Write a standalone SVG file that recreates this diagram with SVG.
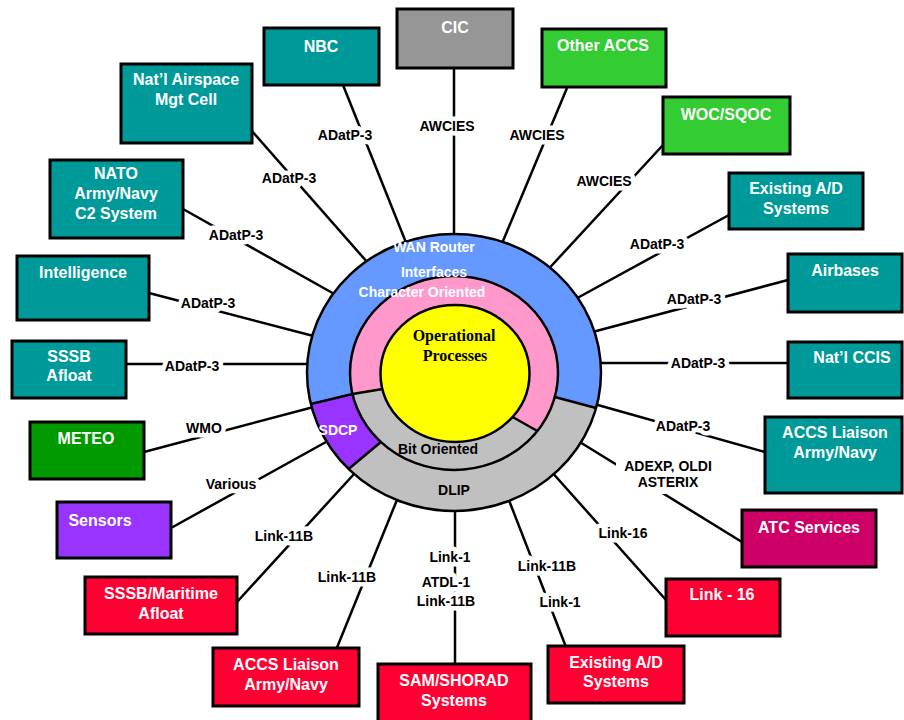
<svg xmlns="http://www.w3.org/2000/svg" width="904" height="720" viewBox="0 0 904 720">
  <style>
    .box { stroke: #000; stroke-width: 3; }
    .teal { fill: #009999; }
    .green { fill: #33CC33; }
    .grey { fill: #969696; }
    .dkgreen { fill: #009900; }
    .violet { fill: #9933FF; }
    .magenta { fill: #CC0066; }
    .red { fill: #FF0033; }
    .bt { font-family: "Liberation Sans", Arial, sans-serif; font-weight: bold; font-size: 16px; fill: #fff; text-anchor: middle; }
    .link { stroke: #000; stroke-width: 2.5; fill: none; }
    .lbl { font-family: "Liberation Sans", Arial, sans-serif; font-weight: bold; font-size: 14px; fill: #000; text-anchor: middle;
           stroke: #fff; stroke-width: 9px; stroke-linejoin: round; paint-order: stroke; }
    .ring { stroke: #000; stroke-width: 2.5; }
    .ct { font-family: "Liberation Sans", Arial, sans-serif; font-weight: bold; font-size: 14px; text-anchor: middle; }
    .serif { font-family: "Liberation Serif", "Times New Roman", serif; font-weight: bold; font-size: 16px; fill: #000; text-anchor: middle; }
  </style>

  <rect width="904" height="720" fill="#fff"/>

  <!-- connectors: drawn first so the hub covers their inner ends -->
  <g id="connectors">
    <line class="link" x1="454" y1="68" x2="454" y2="250"/>
    <line class="link" x1="343" y1="85" x2="413" y2="260"/>
    <line class="link" x1="252" y1="131" x2="375" y2="271"/>
    <line class="link" x1="183" y1="209" x2="345" y2="300"/>
    <line class="link" x1="149" y1="293" x2="325" y2="339"/>
    <line class="link" x1="126" y1="364" x2="320" y2="364"/>
    <line class="link" x1="144" y1="452" x2="325" y2="404"/>
    <line class="link" x1="171" y1="528" x2="335" y2="437"/>
    <line class="link" x1="237" y1="602" x2="365" y2="462"/>
    <line class="link" x1="336" y1="650" x2="401" y2="490"/>
    <line class="link" x1="455" y1="664" x2="455" y2="490"/>
    <line class="link" x1="566" y1="647" x2="505" y2="490"/>
    <line class="link" x1="666" y1="600" x2="550" y2="470"/>
    <line class="link" x1="742" y1="542" x2="570" y2="436"/>
    <line class="link" x1="765" y1="452" x2="580" y2="400"/>
    <line class="link" x1="788" y1="363" x2="590" y2="363"/>
    <line class="link" x1="788" y1="280" x2="585" y2="334"/>
    <line class="link" x1="729" y1="215" x2="570" y2="302"/>
    <line class="link" x1="663" y1="145" x2="543" y2="275"/>
    <line class="link" x1="567" y1="88" x2="495" y2="260"/>

    <!-- protocol labels -->
    <text class="lbl" x="447" y="131">AWCIES</text>
    <text class="lbl" x="345" y="140">ADatP-3</text>
    <text class="lbl" x="289" y="183">ADatP-3</text>
    <text class="lbl" x="236" y="240">ADatP-3</text>
    <text class="lbl" x="208" y="308">ADatP-3</text>
    <text class="lbl" x="192" y="371">ADatP-3</text>
    <text class="lbl" x="204" y="433">WMO</text>
    <text class="lbl" x="231" y="489">Various</text>
    <text class="lbl" x="284" y="541">Link-11B</text>
    <text class="lbl" x="347" y="582">Link-11B</text>
    <text class="lbl" x="450" y="562">Link-1</text>
    <text class="lbl" x="446" y="587">ATDL-1</text>
    <text class="lbl" x="446" y="606">Link-11B</text>
    <text class="lbl" x="547" y="571">Link-11B</text>
    <text class="lbl" x="560" y="607">Link-1</text>
    <text class="lbl" x="623" y="538">Link-16</text>
    <rect x="616" y="454" width="104" height="40" fill="#fff"/>
    <text class="lbl" x="668" y="471">ADEXP, OLDI</text>
    <text class="lbl" x="668" y="487">ASTERIX</text>
    <text class="lbl" x="683" y="431">ADatP-3</text>
    <text class="lbl" x="698" y="368">ADatP-3</text>
    <text class="lbl" x="694" y="304">ADatP-3</text>
    <text class="lbl" x="657" y="249">ADatP-3</text>
    <text class="lbl" x="604" y="186">AWCIES</text>
    <text class="lbl" x="537" y="140">AWCIES</text>
  </g>

  <!-- central hub: interface rings around the operational core -->
  <g id="hub">
    <ellipse cx="454" cy="372.5" rx="147" ry="138.5" fill="#C0C0C0"/>
    <!-- WAN router interfaces (upper outer ring) -->
    <path d="M310.9,404 A147,138.5 0 1 1 596.1,408 L554.8,397 A104,97 0 1 0 352.5,394 Z" fill="#6699FF"/>
    <!-- character oriented (upper inner ring) -->
    <path d="M352.5,394 A104,97 0 1 1 537.4,431 L512.6,417 A74.5,68.5 0 1 0 382.6,389 Z" fill="#FF99CC"/>
    <!-- SDCP sector -->
    <path d="M310.9,404 L352.5,394 A104,97 0 0 0 380.9,442 L348.6,469 A147,138.5 0 0 1 310.9,404 Z" fill="#9933FF"/>
    <ellipse cx="454" cy="372.5" rx="147" ry="138.5" fill="none" class="ring"/>
    <ellipse cx="454" cy="373" rx="104" ry="97" fill="none" class="ring"/>
    <polyline points="310.9,404 352.5,394 382.6,389" fill="none" class="ring"/>
    <line x1="596.1" y1="408" x2="554.8" y2="397" class="ring"/>
    <line x1="537.4" y1="431" x2="512.6" y2="417" class="ring"/>
    <line x1="348.6" y1="469" x2="380.9" y2="442" class="ring"/>
    <ellipse cx="455" cy="373.5" rx="74.5" ry="68.5" fill="#FFFF00" class="ring"/>

    <text class="ct" x="434" y="252" fill="#fff">WAN Router</text>
    <text class="ct" x="434" y="277" fill="#fff">Interfaces</text>
    <text class="ct" x="422" y="297" fill="#fff">Character Oriented</text>
    <text class="serif" x="454" y="341">Operational</text>
    <text class="serif" x="455" y="361">Processes</text>
    <text class="ct" x="338" y="435" fill="#fff">SDCP</text>
    <text class="ct" x="438" y="454" fill="#000">Bit Oriented</text>
    <text class="ct" x="454" y="495" fill="#000">DLIP</text>
  </g>

  <!-- external systems -->
  <g id="cic"><rect class="box grey" x="397" y="9" width="116" height="59"/><text class="bt" x="455" y="33">CIC</text></g>
  <g id="nbc"><rect class="box teal" x="264" y="28" width="115" height="57"/><text class="bt" x="321" y="52">NBC</text></g>
  <g id="airspace-cell"><rect class="box teal" x="121" y="64" width="131" height="79"/><text class="bt" x="186" y="85">Nat’l Airspace</text><text class="bt" x="186" y="105">Mgt Cell</text></g>
  <g id="nato-c2"><rect class="box teal" x="50" y="160" width="133" height="78"/><text class="bt" x="116" y="179">NATO</text><text class="bt" x="116" y="199">Army/Navy</text><text class="bt" x="116" y="219">C2 System</text></g>
  <g id="other-accs"><rect class="box green" x="542" y="29" width="124" height="58"/><text class="bt" x="603" y="51">Other ACCS</text></g>
  <g id="woc-sqoc"><rect class="box green" x="663" y="97" width="127" height="57"/><text class="bt" x="726" y="120">WOC/SQOC</text></g>
  <g id="existing-ad-top"><rect class="box teal" x="729" y="173" width="134" height="56"/><text class="bt" x="796" y="194">Existing A/D</text><text class="bt" x="796" y="214">Systems</text></g>
  <g id="intelligence"><rect class="box teal" x="17" y="256" width="132" height="64"/><text class="bt" x="83" y="278">Intelligence</text></g>
  <g id="sssb-afloat"><rect class="box teal" x="12" y="341" width="114" height="57"/><text class="bt" x="69" y="362">SSSB</text><text class="bt" x="69" y="381">Afloat</text></g>
  <g id="meteo"><rect class="box dkgreen" x="30" y="422" width="114" height="57"/><text class="bt" x="86" y="444">METEO</text></g>
  <g id="sensors"><rect class="box violet" x="57" y="502" width="114" height="56"/><text class="bt" x="100" y="526">Sensors</text></g>
  <g id="airbases"><rect class="box teal" x="788" y="254" width="114" height="58"/><text class="bt" x="845" y="276">Airbases</text></g>
  <g id="natl-ccis"><rect class="box teal" x="788" y="342" width="114" height="56"/><text class="bt" x="852" y="363">Nat’l CCIS</text></g>
  <g id="accs-liaison-east"><rect class="box teal" x="765" y="417" width="137" height="76"/><text class="bt" x="835" y="438">ACCS Liaison</text><text class="bt" x="835" y="458">Army/Navy</text></g>
  <g id="atc-services"><rect class="box magenta" x="742" y="510" width="134" height="57"/><text class="bt" x="809" y="533">ATC Services</text></g>
  <g id="link16"><rect class="box red" x="666" y="579" width="114" height="57"/><text class="bt" x="722" y="600">Link - 16</text></g>
  <g id="existing-ad-south"><rect class="box red" x="548" y="646" width="136" height="57"/><text class="bt" x="616" y="668">Existing A/D</text><text class="bt" x="616" y="687">Systems</text></g>
  <g id="sam-shorad"><rect class="box red" x="378" y="664" width="153" height="62"/><text class="bt" x="454" y="686">SAM/SHORAD</text><text class="bt" x="454" y="706">Systems</text></g>
  <g id="accs-liaison-south"><rect class="box red" x="213" y="648" width="146" height="58"/><text class="bt" x="286" y="670">ACCS Liaison</text><text class="bt" x="286" y="690">Army/Navy</text></g>
  <g id="sssb-maritime"><rect class="box red" x="85" y="577" width="152" height="57"/><text class="bt" x="161" y="599">SSSB/Maritime</text><text class="bt" x="161" y="619">Afloat</text></g>
</svg>
